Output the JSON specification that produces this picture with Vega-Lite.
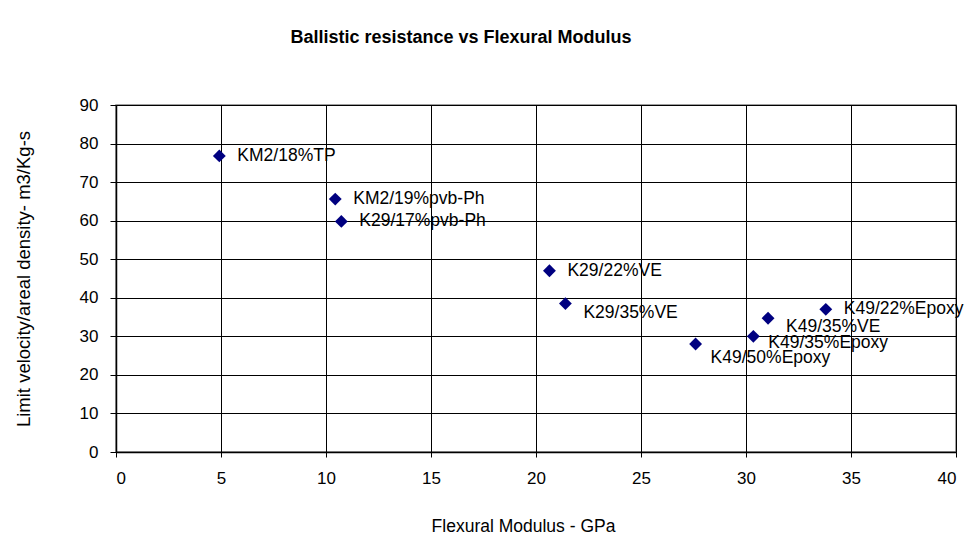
{
  "$schema": "https://vega.github.io/schema/vega-lite/v6.json",
  "width": 840,
  "height": 347,
  "autosize": {"type": "none"},
  "padding": {"left": 116, "top": 105, "right": 21, "bottom": 106},
  "background": "white",
  "title": {
    "text": "Ballistic resistance vs Flexural Modulus",
    "font": "Liberation Sans",
    "fontSize": 18,
    "fontWeight": "bold",
    "color": "black",
    "anchor": "middle",
    "frame": "group",
    "dx": -75,
    "offset": 49
  },
  "data": {
    "values": [
      {"label": "KM2/18%TP", "modulus": 4.92, "velocity": 76.8},
      {"label": "KM2/19%pvb-Ph", "modulus": 10.44, "velocity": 65.6},
      {"label": "K29/17%pvb-Ph", "modulus": 10.73, "velocity": 59.8},
      {"label": "K29/22%VE", "modulus": 20.64, "velocity": 47.0},
      {"label": "K29/35%VE", "modulus": 21.4, "velocity": 38.5},
      {"label": "K49/22%Epoxy", "modulus": 33.8, "velocity": 37.0},
      {"label": "K49/35%VE", "modulus": 31.05, "velocity": 34.7},
      {"label": "K49/35%Epoxy", "modulus": 30.35, "velocity": 30.0},
      {"label": "K49/50%Epoxy", "modulus": 27.6, "velocity": 28.0}
    ]
  },
  "encoding": {
    "x": {
      "field": "modulus",
      "type": "quantitative",
      "scale": {"domain": [0, 40], "nice": false},
      "axis": {
        "title": "Flexural Modulus - GPa",
        "values": [0, 5, 10, 15, 20, 25, 30, 35, 40],
        "grid": true,
        "gridColor": "black",
        "gridOpacity": 1,
        "gridWidth": 1,
        "domainColor": "black",
        "domainWidth": 1.5,
        "tickColor": "black",
        "tickSize": 5,
        "labelFont": "Liberation Sans",
        "labelFontSize": 17,
        "labelColor": "black",
        "labelPadding": 13,
        "titleFont": "Liberation Sans",
        "titleFontSize": 17.5,
        "titleFontWeight": "normal",
        "titleColor": "black",
        "titlePadding": 31,
        "titleX": 407,
        "titleAlign": "center"
      }
    },
    "y": {
      "field": "velocity",
      "type": "quantitative",
      "scale": {"domain": [0, 90], "nice": false},
      "axis": {
        "title": "Limit velocity/areal density- m3/Kg-s",
        "values": [0, 10, 20, 30, 40, 50, 60, 70, 80, 90],
        "grid": true,
        "gridColor": "black",
        "gridOpacity": 1,
        "gridWidth": 1,
        "domainColor": "black",
        "domainWidth": 1.5,
        "tickColor": "black",
        "tickSize": 6,
        "labelFont": "Liberation Sans",
        "labelFontSize": 17,
        "labelColor": "black",
        "labelPadding": 12,
        "titleFont": "Liberation Sans",
        "titleFontSize": 18.5,
        "titleFontWeight": "normal",
        "titleColor": "black",
        "titlePadding": 46
      }
    }
  },
  "layer": [
    {
      "mark": {"type": "point", "shape": "diamond", "filled": true, "color": "#000080", "size": 165, "opacity": 1}
    },
    {
      "transform": [{"filter": "indexof(['KM2/18%TP','KM2/19%pvb-Ph','K29/17%pvb-Ph','K29/22%VE','K49/22%Epoxy'], datum.label) >= 0"}],
      "mark": {"type": "text", "align": "left", "baseline": "middle", "dx": 18, "dy": 0, "font": "Liberation Sans", "fontSize": 17.5, "color": "black"},
      "encoding": {"text": {"field": "label"}}
    },
    {
      "transform": [{"filter": "indexof(['K29/35%VE','K49/35%VE'], datum.label) >= 0"}],
      "mark": {"type": "text", "align": "left", "baseline": "middle", "dx": 18, "dy": 9, "font": "Liberation Sans", "fontSize": 17.5, "color": "black"},
      "encoding": {"text": {"field": "label"}}
    },
    {
      "transform": [{"filter": "datum.label == 'K49/35%Epoxy'"}],
      "mark": {"type": "text", "align": "left", "baseline": "middle", "dx": 15, "dy": 7, "font": "Liberation Sans", "fontSize": 17.5, "color": "black"},
      "encoding": {"text": {"field": "label"}}
    },
    {
      "transform": [{"filter": "datum.label == 'K49/50%Epoxy'"}],
      "mark": {"type": "text", "align": "left", "baseline": "middle", "dx": 15, "dy": 14, "font": "Liberation Sans", "fontSize": 17.5, "color": "black"},
      "encoding": {"text": {"field": "label"}}
    }
  ],
  "config": {
    "view": {"stroke": "#808080", "strokeWidth": 1.5}
  }
}
